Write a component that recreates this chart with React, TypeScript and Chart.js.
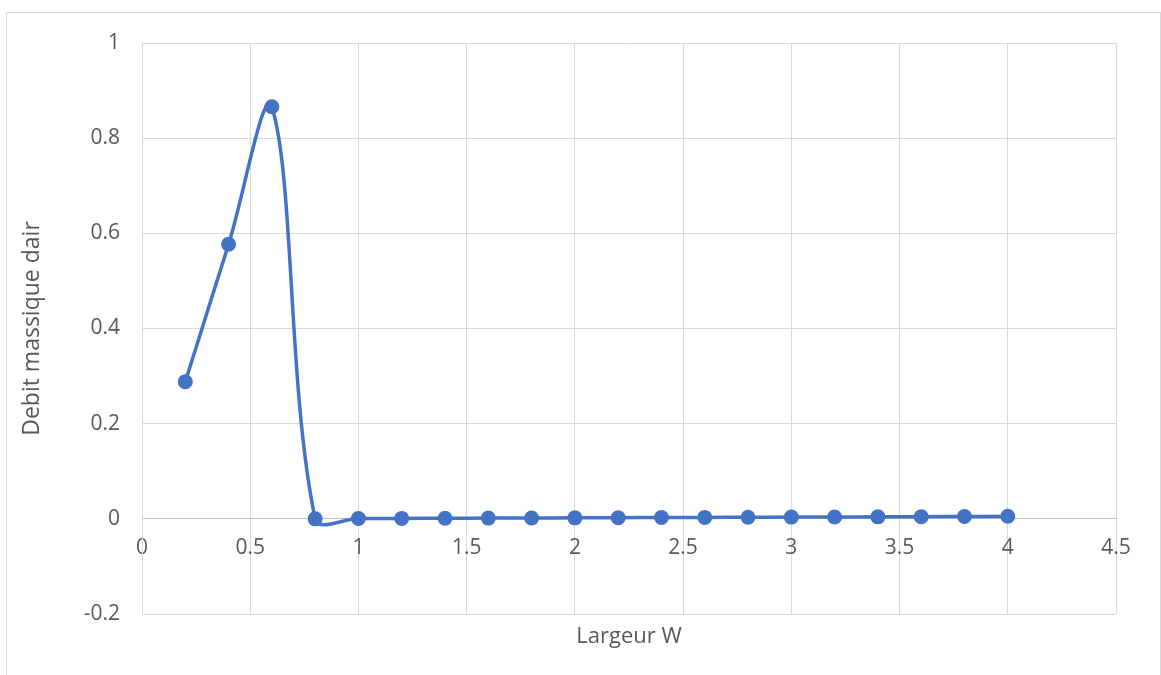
import React, { useEffect, useRef } from "react";
import { Chart, registerables } from "chart.js";

Chart.register(...registerables);

const widths = [0.2, 0.4, 0.6, 0.8, 1.0, 1.2, 1.4, 1.6, 1.8, 2.0, 2.2, 2.4, 2.6, 2.8, 3.0, 3.2, 3.4, 3.6, 3.8, 4.0];
const massFlow = [0.288, 0.577, 0.866, 0.0, 0.0006, 0.0009, 0.0012, 0.0015, 0.0018, 0.0021, 0.0024, 0.0027, 0.003, 0.0033, 0.0036, 0.0039, 0.0042, 0.0045, 0.0049, 0.0053];
const xAxisTitle = "Largeur W";
const yAxisTitle = "Debit massique dair";

const FONT = "'Open Sans', sans-serif";
const TEXT = "#595959";
const GRID = "#d9d9d9";

export default function App() {
  const ref = useRef<HTMLCanvasElement | null>(null);

  useEffect(() => {
    if (!ref.current) return;
    const xTitlePlugin = {
      id: "xTitle",
      afterDraw(chart: any) {
        const { ctx, chartArea } = chart;
        ctx.save();
        ctx.fillStyle = TEXT;
        ctx.font = `22px ${FONT}`;
        ctx.textAlign = "center";
        ctx.textBaseline = "middle";
        ctx.fillText(xAxisTitle, (chartArea.left + chartArea.right) / 2, chartArea.bottom + 23);
        ctx.restore();
      },
    };
    const chart = new Chart(ref.current, {
      type: "scatter",
      data: {
        datasets: [
          {
            data: widths.map((w, i) => ({ x: w, y: massFlow[i] })),
            showLine: true,
            borderColor: "#4472C4",
            backgroundColor: "#4472C4",
            borderWidth: 3.5,
            pointRadius: 7.5,
            pointHoverRadius: 7.5,
            pointBorderWidth: 0,
            tension: 0.35,
          },
        ],
      },
      options: {
        animation: false,
        responsive: false,
        maintainAspectRatio: false,
        layout: { padding: { left: 0, top: 43, right: 45, bottom: 61 } },
        plugins: { legend: { display: false }, tooltip: { enabled: false } },
        scales: {
          x: {
            type: "linear",
            position: { y: 0 } as any,
            min: 0,
            max: 4.5,
            ticks: {
              stepSize: 0.5,
              color: TEXT,
              font: { family: FONT, size: 21 },
              padding: 17,
              maxRotation: 0,
              callback: (v: any) => String(Math.round(Number(v) * 10) / 10),
            },
            grid: { color: GRID, lineWidth: 1, drawTicks: false },
            border: { color: "#bfbfbf", width: 1 },
          },
          y: {
            type: "linear",
            min: -0.2,
            max: 1,
            afterFit(scale: any) {
              scale.width = 142;
            },
            ticks: {
              stepSize: 0.2,
              color: TEXT,
              font: { family: FONT, size: 21 },
              padding: 22,
              callback: (v: any) => String(Math.round(Number(v) * 10) / 10),
            },
            grid: { color: GRID, lineWidth: 1, drawTicks: false },
            border: { color: GRID, width: 1 },
            title: {
              display: true,
              text: yAxisTitle,
              color: TEXT,
              font: { family: FONT, size: 23 },
              padding: { top: 19, bottom: 0 },
            },
          },
        },
      },
      plugins: [xTitlePlugin],
    });
    return () => chart.destroy();
  }, []);

  return (
    <div style={{ position: "absolute", left: 0, top: 0, width: 1161, height: 675, overflow: "hidden", background: "#fff" }}>
      <div style={{ position: "absolute", left: 6, top: 12, width: 1153, height: 700, border: `1px solid ${GRID}` }} />
      <canvas ref={ref} width={1161} height={675} style={{ position: "absolute", left: 0, top: 0 }} />
    </div>
  );
}
